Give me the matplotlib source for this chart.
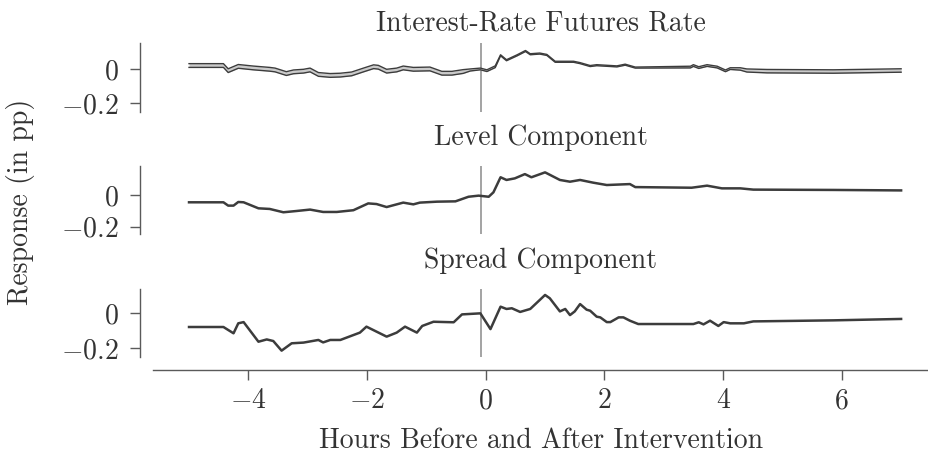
import matplotlib
matplotlib.use("Agg")
import matplotlib.pyplot as plt

plt.rcParams.update({
    "font.family": "serif",
    "font.serif": ["cmr10"],
    "mathtext.fontset": "cm",
    "axes.formatter.use_mathtext": True,
    "axes.unicode_minus": True,
})

# ---------------- data ----------------
titles = ["Interest-Rate Futures Rate", "Level Component", "Spread Component"]

hours_rate = [-5, -4.42, -4.34, -4.17, -3.92, -3.64, -3.55, -3.36, -3.24, -3.07,
              -2.96, -2.82, -2.62, -2.45, -2.26, -2.06, -1.89, -1.81, -1.67, -1.50,
              -1.39, -1.22, -0.94, -0.74, -0.57, -0.38, -0.26, -0.09, 0.02, 0.16,
              0.25, 0.35, 0.53, 0.67, 0.75, 0.91, 1.03, 1.17, 1.48, 1.59,
              1.76, 1.87, 2.21, 2.35, 2.52, 3.45, 3.5, 3.59, 3.73, 3.9,
              4.04, 4.12, 4.29, 4.4, 4.74, 5.86, 7.0]
resp_rate = [0.02, 0.02, -0.01, 0.015, 0.006, -0.002, -0.006, -0.027, -0.017, -0.013,
             -0.006, -0.032, -0.038, -0.036, -0.029, -0.006, 0.013, 0.01, -0.013, -0.006,
             0.006, -0.002, 0.0, -0.025, -0.025, -0.015, -0.006, 0.0, -0.01, 0.013,
             0.08, 0.051, 0.08, 0.105, 0.086, 0.09, 0.082, 0.042, 0.042, 0.034,
             0.017, 0.022, 0.015, 0.025, 0.008, 0.011, 0.02, 0.008, 0.02, 0.011,
             -0.011, 0.002, 0.0, -0.009, -0.013, -0.015, -0.009]
band_rate = [0.011, 0.011, 0.011, 0.011, 0.011, 0.011, 0.011, 0.011, 0.011, 0.011,
             0.011, 0.011, 0.011, 0.011, 0.011, 0.011, 0.011, 0.011, 0.011, 0.011,
             0.011, 0.011, 0.011, 0.011, 0.011, 0.011, 0.006, 0.005, 0.005, 0.005,
             0.003, 0.003, 0.003, 0.003, 0.003, 0.003, 0.003, 0.003, 0.003, 0.003,
             0.003, 0.003, 0.003, 0.003, 0.003, 0.005, 0.005, 0.005, 0.005, 0.005,
             0.005, 0.005, 0.007, 0.009, 0.010, 0.010, 0.010]

hours_level = [-5, -4.42, -4.34, -4.25, -4.17, -4.08, -3.83, -3.64, -3.41, -3.19,
               -2.96, -2.74, -2.51, -2.23, -1.98, -1.84, -1.67, -1.39, -1.22, -1.11,
               -0.82, -0.51, -0.29, -0.12, 0.05, 0.13, 0.25, 0.35, 0.49, 0.66,
               0.77, 1.0, 1.25, 1.42, 1.59, 1.81, 2.04, 2.43, 2.52, 3.47,
               3.73, 3.98, 4.29, 4.51, 5.86, 7.0]
resp_level = [-0.046, -0.046, -0.067, -0.067, -0.044, -0.046, -0.084, -0.088, -0.109, -0.101,
              -0.092, -0.107, -0.107, -0.096, -0.053, -0.057, -0.076, -0.048, -0.059, -0.048,
              -0.042, -0.040, -0.011, -0.004, -0.011, 0.017, 0.112, 0.095, 0.105, 0.132,
              0.112, 0.143, 0.095, 0.084, 0.095, 0.078, 0.063, 0.069, 0.05, 0.046,
              0.059, 0.042, 0.042, 0.034, 0.032, 0.029]

hours_spread = [-5, -4.42, -4.25, -4.17, -4.08, -3.83, -3.69, -3.58, -3.44, -3.27,
                -3.07, -2.82, -2.74, -2.62, -2.45, -2.12, -2.01, -1.67, -1.5, -1.36,
                -1.16, -1.07, -0.88, -0.54, -0.4, -0.09, 0.08, 0.25, 0.35, 0.44,
                0.58, 0.75, 1.0, 1.08, 1.25, 1.34, 1.42, 1.5, 1.59, 1.7,
                1.76, 1.87, 1.93, 2.04, 2.1, 2.24, 2.32, 2.43, 2.57, 3.5,
                3.59, 3.67, 3.78, 3.92, 4.01, 4.12, 4.35, 4.51, 5.86, 7.0]
resp_spread = [-0.078, -0.078, -0.114, -0.057, -0.05, -0.162, -0.149, -0.158, -0.213, -0.171,
               -0.167, -0.152, -0.166, -0.152, -0.152, -0.11, -0.076, -0.133, -0.11, -0.076,
               -0.11, -0.072, -0.048, -0.051, -0.006, 0.0, -0.09, 0.038, 0.025, 0.029,
               0.008, 0.025, 0.105, 0.086, 0.011, 0.025, -0.01, 0.011, 0.053, 0.021,
               0.015, -0.019, -0.023, -0.05, -0.05, -0.023, -0.023, -0.042, -0.061, -0.061,
               -0.051, -0.063, -0.042, -0.072, -0.05, -0.057, -0.057, -0.046, -0.04, -0.032]

intervention_time = -5 / 60
x_ticks = [-4, -2, 0, 2, 4, 6]
x_ticklabels = ["$-4$", "$-2$", "$0$", "$2$", "$4$", "$6$"]
y_ticks = [-0.2, 0]
y_ticklabels = ["$-0.2$", "$0$"]

# ---------------- style ----------------
LINE = "#3c3c3c"
FILL = "#cacaca"
VLINE = "#8a8a8a"
SPINE = "#5a5a5a"
TEXT = "#333333"
FS_TICK = 20
FS_LAB = 20

fig = plt.figure(figsize=(9.29, 4.62), dpi=100)
W, H = 929, 462

def frac_box(left, top, right, bottom):
    return [left / W, 1 - bottom / H, (right - left) / W, (bottom - top) / H]

boxes = [frac_box(153, 43.3, 929, 111.7),
         frac_box(153, 165.7, 929, 234.3),
         frac_box(153, 289, 929, 357.3)]
ylims = [(-0.25, 0.15), (-0.248, 0.185), (-0.251, 0.139)]
title_pads = [9, 15, 15]
xlim = (-5.607, 7.47)

axes = [fig.add_axes(b) for b in boxes]
for i, ax in enumerate(axes):
    ax.set_xlim(*xlim)
    ax.set_ylim(*ylims[i])
    ax.axvline(intervention_time, color=VLINE, lw=1.1, zorder=1)
    for s in ["top", "right"]:
        ax.spines[s].set_visible(False)
    ax.spines["left"].set_position(("outward", 9.4))
    ax.spines["left"].set_color(SPINE)
    ax.spines["left"].set_linewidth(1.0)
    ax.set_yticks(y_ticks, labels=y_ticklabels)
    ax.tick_params(axis="y", length=7.5, width=1.0, color=SPINE, labelcolor=TEXT,
                   labelsize=FS_TICK, pad=8)
    ax.set_title(titles[i], fontsize=FS_LAB, color=TEXT, pad=title_pads[i])
    if i < 2:
        ax.spines["bottom"].set_visible(False)
        ax.set_xticks([])
    else:
        ax.spines["bottom"].set_position(("outward", 9.4))
        ax.spines["bottom"].set_color(SPINE)
        ax.spines["bottom"].set_linewidth(1.0)
        ax.set_xticks(x_ticks, labels=x_ticklabels)
        ax.tick_params(axis="x", length=7.5, width=1.0, color=SPINE, labelcolor=TEXT,
                       labelsize=FS_TICK, pad=5)

# panel 1: estimate with confidence band
lo = [r - b for r, b in zip(resp_rate, band_rate)]
hi = [r + b for r, b in zip(resp_rate, band_rate)]
axes[0].fill_between(hours_rate, lo, hi, color=FILL, lw=0, zorder=2)
axes[0].plot(hours_rate, lo, color=LINE, lw=1.0, zorder=3)
axes[0].plot(hours_rate, hi, color=LINE, lw=1.0, zorder=3)

axes[1].plot(hours_level, resp_level, color=LINE, lw=1.8, zorder=3)
axes[2].plot(hours_spread, resp_spread, color=LINE, lw=1.8, zorder=3)

fig.text(21 / W, 1 - 202 / H, "Response (in pp)", rotation=90, ha="center",
         va="center", fontsize=FS_LAB, color=TEXT)
fig.text(541 / W, 1 - 441 / H, "Hours Before and After Intervention", ha="center",
         va="center", fontsize=FS_LAB, color=TEXT)

fig.savefig("out.png", dpi=100)
